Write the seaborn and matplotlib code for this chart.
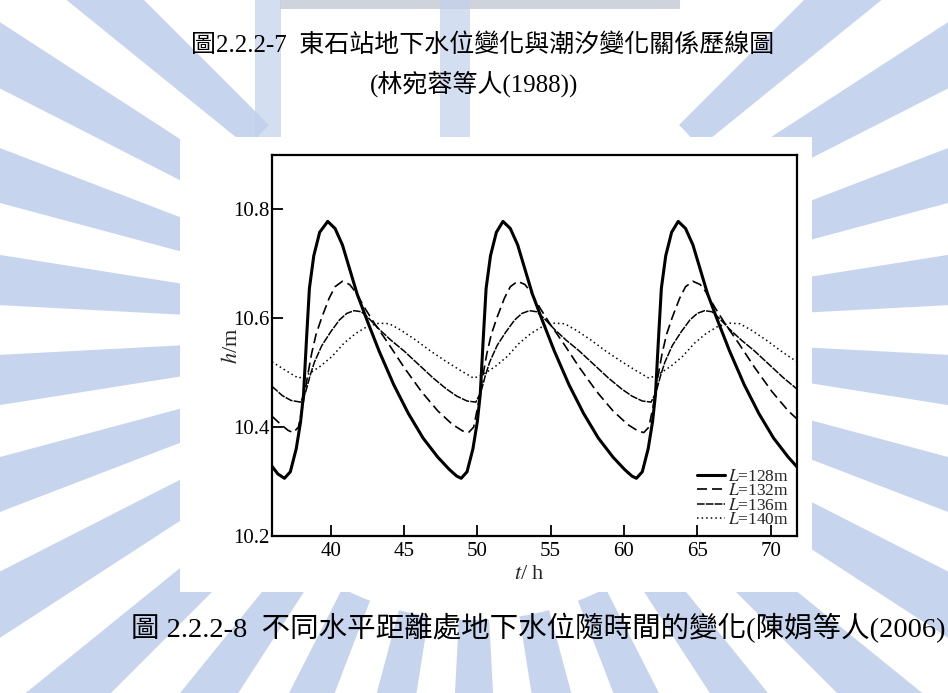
import matplotlib
matplotlib.use("Agg")
import matplotlib.pyplot as plt
from matplotlib.patches import Wedge, Rectangle
import pandas as pd
import seaborn as sns

# text of the scanned page
TITLE_1 = "圖2.2.2-7  東石站地下水位變化與潮汐變化關係歷線圖"
TITLE_2 = "(林宛蓉等人(1988))"
CAPTION = "圖 2.2.2-8  不同水平距離處地下水位隨時間的變化(陳娟等人(2006)"

X_TICKS = [40, 45, 50, 55, 60, 65, 70]
Y_TICKS = [10.2, 10.4, 10.6, 10.8]
LABELS = ["$L$=128m", "$L$=132m", "$L$=136m", "$L$=140m"]

# groundwater level h (m) against time t (h)
T_128 = [36.0, 36.4, 36.85, 37.25, 37.65, 37.95, 38.15, 38.35, 38.55, 38.85, 39.25, 39.8,
         40.3, 40.8, 41.3, 41.8, 42.5, 43.3, 44.3, 45.3, 46.3, 47.3, 48.1, 48.6,
         48.9, 49.3, 49.7, 50.0, 50.2, 50.4, 50.6, 50.9, 51.3, 51.75,
         52.25, 52.75, 53.25, 53.75, 54.45, 55.25, 56.25, 57.25, 58.25, 59.25, 60.05, 60.55,
         60.85, 61.25, 61.65, 61.95, 62.15, 62.35, 62.55, 62.85, 63.25, 63.7,
         64.2, 64.7, 65.2, 65.7, 66.4, 67.2, 68.2, 69.2, 70.2, 71.2, 71.8]
H_128 = [10.328, 10.314, 10.306, 10.318, 10.36, 10.41, 10.46, 10.56, 10.655, 10.715, 10.758, 10.778,
         10.765, 10.735, 10.69, 10.645, 10.595, 10.54, 10.478, 10.425, 10.38, 10.345, 10.322, 10.31,
         10.306, 10.318, 10.36, 10.41, 10.46, 10.56, 10.655, 10.715, 10.758, 10.778,
         10.765, 10.735, 10.69, 10.645, 10.595, 10.54, 10.478, 10.425, 10.38, 10.345, 10.322, 10.31,
         10.306, 10.318, 10.36, 10.41, 10.46, 10.56, 10.655, 10.715, 10.758, 10.778,
         10.765, 10.735, 10.69, 10.645, 10.595, 10.54, 10.478, 10.425, 10.38, 10.345, 10.327]

T_132 = [36.0, 36.6, 37.1,
         37.45, 37.8, 38.1, 38.4, 38.7, 39.0, 39.4, 39.9, 40.3, 40.8, 41.3, 41.7, 42.3, 43.0,
         43.9, 45.0, 46.2, 47.3, 48.3, 49.0,
         49.4, 49.75, 50.05, 50.35, 50.65, 50.95, 51.35, 51.85, 52.25, 52.75, 53.25, 53.65, 54.25, 54.95,
         55.85, 56.95, 58.15, 59.25, 60.25, 60.95,
         61.35, 61.7, 62.0, 62.3, 62.6, 62.9, 63.3, 63.8, 64.2, 64.7, 65.2, 65.6, 66.2, 66.9,
         67.8, 68.9, 70.1, 71.2, 71.8]
H_132 = [10.42, 10.405, 10.394,
         10.39, 10.40, 10.44, 10.49, 10.535, 10.57, 10.602, 10.637, 10.658, 10.668, 10.662, 10.648, 10.62, 10.59,
         10.555, 10.51, 10.465, 10.43, 10.405, 10.393,
         10.39, 10.40, 10.44, 10.49, 10.535, 10.57, 10.602, 10.637, 10.658, 10.668, 10.662, 10.648, 10.62, 10.59,
         10.555, 10.51, 10.465, 10.43, 10.405, 10.393,
         10.39, 10.40, 10.44, 10.49, 10.535, 10.57, 10.602, 10.637, 10.658, 10.668, 10.662, 10.648, 10.62, 10.59,
         10.555, 10.51, 10.465, 10.43, 10.415]

T_136 = [36.0, 36.7, 37.3,
         37.95, 38.3, 38.6, 38.9, 39.4, 40.0, 40.6, 41.1, 41.6, 42.1, 42.6, 43.3, 44.1, 45.0,
         46.0, 47.0, 47.9, 48.6, 49.3,
         49.9, 50.25, 50.55, 50.85, 51.35, 51.95, 52.55, 53.05, 53.55, 54.05, 54.55, 55.25, 56.05, 56.95,
         57.95, 58.95, 59.85, 60.55, 61.25,
         61.85, 62.2, 62.5, 62.8, 63.3, 63.9, 64.5, 65.0, 65.5, 66.0, 66.5, 67.2, 68.0, 68.9,
         69.9, 70.9, 71.8]
H_136 = [10.475, 10.458, 10.449,
         10.446, 10.465, 10.495, 10.52, 10.55, 10.575, 10.597, 10.609, 10.614, 10.612, 10.60, 10.58, 10.56, 10.54,
         10.515, 10.49, 10.47, 10.457, 10.448,
         10.446, 10.465, 10.495, 10.52, 10.55, 10.575, 10.597, 10.609, 10.614, 10.612, 10.60, 10.58, 10.56, 10.54,
         10.515, 10.49, 10.47, 10.457, 10.448,
         10.446, 10.465, 10.495, 10.52, 10.55, 10.575, 10.597, 10.609, 10.614, 10.612, 10.60, 10.58, 10.56, 10.54,
         10.515, 10.49, 10.47]

T_140 = [36.0, 37.0,
         37.8, 38.3, 38.8, 39.3, 40.1, 40.9, 41.7, 42.5, 43.3, 44.0, 44.8, 45.8, 46.8, 47.8, 48.8,
         49.75, 50.25, 50.75, 51.25, 52.05, 52.85, 53.65, 54.45, 55.25, 55.95, 56.75, 57.75, 58.75, 59.75, 60.75,
         61.7, 62.2, 62.7, 63.2, 64.0, 64.8, 65.6, 66.4, 67.2, 67.9, 68.7, 69.7, 70.7, 71.8]
H_140 = [10.52, 10.503,
         10.49, 10.495, 10.503, 10.512, 10.53, 10.554, 10.572, 10.585, 10.591, 10.59, 10.578, 10.56, 10.54, 10.522, 10.505,
         10.49, 10.495, 10.503, 10.512, 10.53, 10.554, 10.572, 10.585, 10.591, 10.59, 10.578, 10.56, 10.54, 10.522, 10.505,
         10.49, 10.495, 10.503, 10.512, 10.53, 10.554, 10.572, 10.585, 10.591, 10.59, 10.578, 10.56, 10.54, 10.52]

sns.set_theme(style="ticks")
plt.rcParams["font.family"] = ["Liberation Serif", "Noto Sans CJK TC", "DejaVu Sans"]
plt.rcParams["mathtext.fontset"] = "stix"

W, H = 948, 693
fig = plt.figure(figsize=(W / 100, H / 100), dpi=100)
fig.patch.set_facecolor("white")

# page background: pale watermark rays and the white scanned-figure box
bg = fig.add_axes([0, 0, 1, 1], zorder=0)
bg.set_xlim(0, W)
bg.set_ylim(H, 0)
bg.axis("off")
for a in range(3, 360, 12):
    mid = a + 3
    if 232 < mid < 308:   # top centre holds the logo letters instead
        continue
    bg.add_patch(Wedge((474, 330), 950, a, a + 6, width=660,
                       facecolor="#b9cae9", edgecolor="none", alpha=0.8))
bg.add_patch(Rectangle((280, 0), 400, 9, facecolor="#cfd4dc", edgecolor="none"))
for x0, w0 in [(255, 26), (440, 30)]:
    bg.add_patch(Rectangle((x0, 0), w0, 137, facecolor="#c3d1ec", edgecolor="none", alpha=0.7))
bg.add_patch(Rectangle((180, 137), 632, 455, facecolor="white", edgecolor="none"))

bg.text(483, 45, TITLE_1, fontsize=18, ha="center", va="center", color="black")
bg.text(474, 84, TITLE_2, fontsize=18, ha="center", va="center", color="black")
bg.text(538, 628, CAPTION, fontsize=20.5, ha="center", va="center", color="black")

# the chart
ax = fig.add_axes([272 / W, 1 - 536 / H, (797 - 272) / W, (536 - 155) / H], zorder=2)
ax.set_facecolor("white")

series = [(T_128, H_128, "-", 2.2), (T_132, H_132, (0, (6, 3)), 1.2),
          (T_136, H_136, (0, (5, 0.8)), 1.1), (T_140, H_140, (0, (1, 2)), 1.1)]
for (t, h, ls, lw), lab in zip(series, LABELS):
    df = pd.DataFrame({"t": t, "h": h})
    sns.lineplot(data=df, x="t", y="h", ax=ax, color="black", linestyle=ls,
                 linewidth=lw, sort=False, estimator=None, label=lab)

ax.set_xlim(36, 71.8)
ax.set_ylim(10.2, 10.9)
ax.set_xticks(X_TICKS)
ax.set_yticks(Y_TICKS)
ax.set_yticklabels([f"{v:.1f}" for v in Y_TICKS])
ax.tick_params(direction="in", length=8, width=1.3, labelsize=15, colors="black")
ax.tick_params(axis="x", pad=4)
ax.tick_params(axis="y", pad=2)
for sp in ax.spines.values():
    sp.set_linewidth(1.6)
    sp.set_color("black")
ax.set_xlabel("$t$/ h", fontsize=16)
ax.set_ylabel("$h$/m", fontsize=16)
ax.xaxis.set_label_coords(0.49, -0.075)
ax.yaxis.set_label_coords(-0.058, 0.5)

ax.legend(loc="lower right", frameon=False, fontsize=12.5, handlelength=1.6,
          handletextpad=0.2, labelspacing=-0.1, borderaxespad=0.05)

fig.savefig("out.png", dpi=100)
